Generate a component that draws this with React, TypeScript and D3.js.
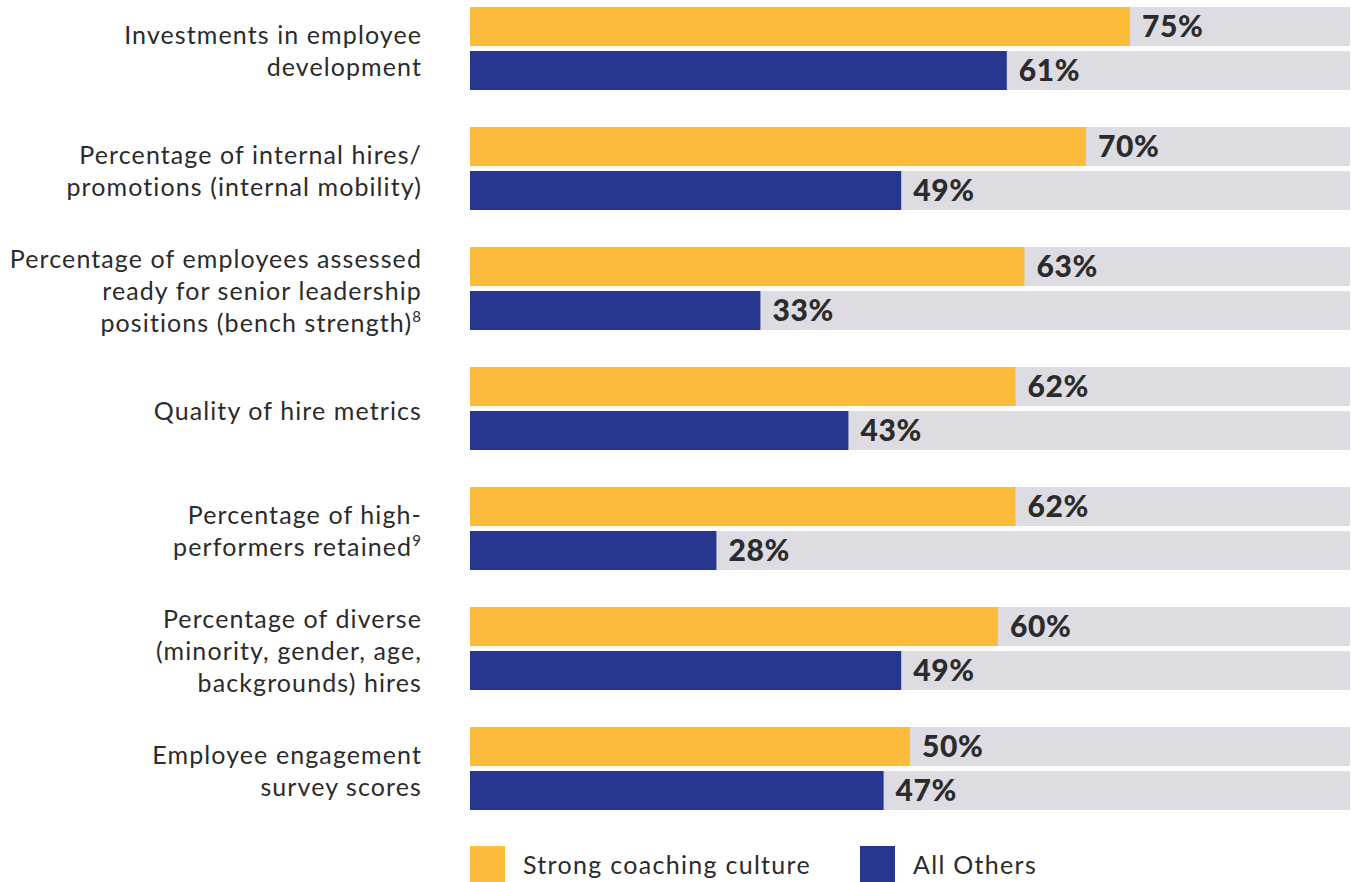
import React from "react";
import * as d3 from "d3";

const categories: string[][] = [
  ["Investments in employee", "development"],
  ["Percentage of internal hires/", "promotions (internal mobility)"],
  ["Percentage of employees assessed", "ready for senior leadership", "positions (bench strength)|8"],
  ["Quality of hire metrics"],
  ["Percentage of high-", "performers retained|9"],
  ["Percentage of diverse", "(minority, gender, age,", "backgrounds) hires"],
  ["Employee engagement", "survey scores"],
];
const strongCoaching = [75, 70, 63, 62, 62, 60, 50];
const allOthers = [61, 49, 33, 43, 28, 49, 47];
const seriesNames = ["Strong coaching culture", "All Others"];

const W = 1351;
const H = 882;
const YELLOW = "#FDBB3C";
const NAVY = "#27378F";
const GRAY = "#DCDCE2";
const TEXT = "#2B2B2B";
const FONT = "Lato, 'Open Sans', sans-serif";

export default function App() {
  const x = d3.scaleLinear().domain([0, 100]).range([470, 1350]);
  const y = d3.scaleBand<number>().domain(d3.range(categories.length)).range([7, 847]).paddingInner(0).paddingOuter(0);
  const barH = 39;
  const gap = 5;
  const lineH = 32;

  return (
    <svg width={W} height={H} style={{ position: "absolute", left: 0, top: 0 }}>
      <rect x={0} y={0} width={W} height={H} fill="#fff" />
      {categories.map((lines, i) => {
        const top = y(i)!;
        const center = top + barH + gap / 2;
        const vals = [strongCoaching[i], allOthers[i]];
        return (
          <g key={i}>
            {vals.map((v, j) => {
              const by = top + j * (barH + gap);
              return (
                <g key={j}>
                  <rect x={x(0)} y={by} width={x(100) - x(0)} height={barH} fill={GRAY} />
                  <rect x={x(0)} y={by} width={x(v) - x(0)} height={barH} fill={j === 0 ? YELLOW : NAVY} />
                  <text x={x(v) + 12} y={by + barH / 2 + 10.5} fontFamily={FONT} fontWeight={900} fontSize={30} letterSpacing={0.6} fill={TEXT}>
                    {v}%
                  </text>
                </g>
              );
            })}
            {lines.map((ln, k) => {
              const [t, sup] = ln.split("|");
              const ly = center + 2 + (k - (lines.length - 1) / 2) * lineH + 9;
              return (
                <text key={k} x={422} y={ly} textAnchor="end" fontFamily={FONT} fontSize={25} letterSpacing={1.1} fill={TEXT}>
                  {t}
                  {sup ? (
                    <tspan fontSize={15} dy={-10}>{sup}</tspan>
                  ) : null}
                </text>
              );
            })}
          </g>
        );
      })}
      {seriesNames.map((name, j) => {
        const lx = j === 0 ? 470 : 860;
        return (
          <g key={name}>
            <rect x={lx} y={846} width={35} height={36} fill={j === 0 ? YELLOW : NAVY} />
            <text x={lx + 53} y={874} fontFamily={FONT} fontSize={25} letterSpacing={1.3} fill={TEXT}>
              {name}
            </text>
          </g>
        );
      })}
    </svg>
  );
}
